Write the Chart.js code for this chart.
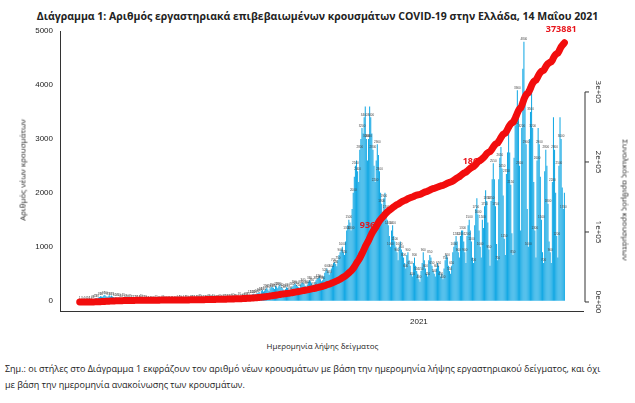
<!DOCTYPE html>
<html lang="el">
<head>
<meta charset="UTF-8">
<title>Διάγραμμα 1</title>
<script src="https://cdn.jsdelivr.net/npm/chart.js"></script>
<style>
    body { margin: 0; width: 635px; height: 403px; background: #fff; font-family: 'Open Sans', sans-serif; color: #222; position: relative; overflow: hidden; }
    #wrap { position: absolute; left: 0; top: 0; width: 635px; height: 340px; }
    .title { position: absolute; top: 9px; left: 0; width: 635px; text-align: center; font-size: 10.5px; font-weight: bold; }
    .ytitle { position: absolute; font-size: 8px; white-space: nowrap; }
    #yl { left: 22px; top: 170px; transform: translate(-50%, -50%) rotate(-90deg); }
    #yr { left: 626px; top: 200px; transform: translate(-50%, -50%) rotate(90deg); }
    .xtitle { position: absolute; top: 340px; left: 80px; width: 485px; text-align: center; font-size: 8px; }
    .note { position: absolute; left: 5px; top: 361px; font-size: 9px; line-height: 16px; width: 625px; }
</style>
</head>
<body>
<div class="title">Διάγραμμα 1: Αριθμός εργαστηριακά επιβεβαιωμένων κρουσμάτων COVID-19 στην Ελλάδα, 14 Μαΐου 2021</div>
<div id="wrap"><canvas id="chart" width="635" height="340"></canvas></div>
<div class="ytitle" id="yl">Αριθμός νέων κρουσμάτων</div>
<div class="ytitle" id="yr">Συνολικός αριθμός κρουσμάτων</div>
<div class="xtitle">Ημερομηνία λήψης δείγματος</div>
<div class="note">Σημ.: οι στήλες στο Διάγραμμα 1 εκφράζουν τον αριθμό νέων κρουσμάτων με βάση την ημερομηνία λήψης εργαστηριακού δείγματος, και όχι<br>με βάση την ημερομηνία ανακοίνωσης των κρουσμάτων.</div>
<script>
// daily new cases by sample date, 26 Feb 2020 - 14 May 2021
const feb20 = [1,2,3,1];
const mar20 = [4,2,6,3,10,14,12,18,24,30,45,52,38,60,70,85,80,75,95,110,90,70,85,100,80,95,78,70,60,65,55];
const apr20 = [50,60,45,40,38,55,62,48,30,25,40,35,20,25,30,22,15,20,28,18,20,40,30,15,12,18,20,10,15,12];
const may20 = [8,10,12,6,10,15,8,5,12,10,8,14,6,9,11,13,10,7,12,8,15,10,18,12,9,14,20,16,11,10,22];
const jun20 = [18,14,20,25,12,16,28,20,15,22,18,30,24,20,35,28,30,40,22,26,32,45,38,30,28,34,40,36,30,42];
const jul20 = [28,35,40,32,30,45,38,42,50,36,48,55,40,35,60,52,45,58,50,62,70,55,48,75,68,72,80,90,85,100,110];
const aug20 = [95,120,130,110,125,140,150,160,130,180,200,170,190,220,240,210,180,230,260,250,240,220,280,260,230,270,300,250,240,210,180];
const sep20 = [220,250,240,210,190,230,260,280,300,320,290,270,250,240,300,330,340,310,280,260,300,350,380,360,330,290,270,340,380,410];
const oct20 = [420,460,400,360,380,450,520,560,600,540,480,520,600,650,700,720,680,640,750,850,900,950,1000,900,850,1100,1300,1400,1500,1450,1300];
const nov20 = [1700,2000,2300,2500,2600,2400,2200,2800,3000,3200,3100,3400,3600,3000,2600,3000,3600,3400,3100,2800,2500,2200,2600,2900,2700,2400,2000,1800,1600,1900];
const dec20 = [2000,1700,1500,1400,1200,1000,1300,1400,1200,1100,1000,900,750,1000,1100,950,900,800,700,600,850,900,750,650,500,450,700,800,650,550,500];
const jan21 = [400,350,550,700,900,750,600,500,450,750,850,800,650,550,500,450,600,700,650,550,450,500,400,600,750,850,800,650,550,500,650];
const feb21 = [900,1000,1100,1200,1100,900,800,1200,1300,1300,1100,900,700,1200,1400,1500,1300,1100,800,700,1400,1700,1900,1600,1300,1000,800,1500];
const mar21 = [1350,1750,2050,1850,1450,950,650,1850,2250,2550,2250,1750,1050,750,2250,2650,2850,2450,1950,1150,850,2350,2750,3150,2750,2150,1250,850,2650,3250,3450];
const apr21 = [3900,3500,2500,1300,3200,4300,4800,3700,2900,1700,1000,3000,3500,4100,3200,2200,1300,800,2600,3200,2900,2300,1500,900,700,2400,2800,2500,1800,1100];
const may21 = [900,700,2200,3400,2800,2000,1200,800,2500,3400,3000,2100,1700,2000];

const daily = [].concat(feb20, mar20, apr20, may20, jun20, jul20, aug20, sep20, oct20,
                        nov20, dec20, jan21, feb21, mar21, apr21, may21);
const year2021Day = 310;   // index of 1 Jan 2021

// red labels on the cumulative curve
const labelDays = [256, 350, 426];
const labelValues = [106000, 197000, 385000];
const labelTexts = ['9367', '1869', '373881'];

const leftTicks = [0, 1000, 2000, 3000, 4000, 5000];
const rightTicks = [0, 100000, 200000, 300000];
const rightTickText = ['0e+00', '1e+05', '2e+05', '3e+05'];

let run = 0;
const cumulative = daily.map(v => (run += v));

const barPoints = daily.map((v, i) => ({ x: i, y: v }));
const linePoints = cumulative.map((v, i) => ({ x: i, y: v }));

const decorations = {
    id: 'decorations',
    afterDatasetDraw(chart, args) {
        if (args.index !== 0) return;
        const ctx = chart.ctx;
        const meta = chart.getDatasetMeta(0);
        ctx.save();
        ctx.fillStyle = '#444';
        ctx.font = '3px sans-serif';
        ctx.textAlign = 'center';
        meta.data.forEach((bar, i) => {
            if (i % 2) return;
            ctx.fillText(String(daily[i]), bar.x, bar.y - 1.5);
        });
        const xs = chart.scales.x, y2 = chart.scales.y2;
        ctx.fillStyle = '#e8141b';
        ctx.font = 'bold 9px "Open Sans", sans-serif';
        ctx.textAlign = 'left';
        labelTexts.forEach((t, i) => {
            ctx.fillText(t, xs.getPixelForValue(labelDays[i]), y2.getPixelForValue(labelValues[i]));
        });
        ctx.restore();
    },
    afterDraw(chart) {
        const ctx = chart.ctx;
        const y2 = chart.scales.y2;
        const x = chart.chartArea.right + 2;
        ctx.save();
        ctx.strokeStyle = '#333';
        ctx.lineWidth = 1;
        ctx.beginPath();
        ctx.moveTo(x, y2.getPixelForValue(0));
        ctx.lineTo(x, y2.getPixelForValue(300000));
        rightTicks.forEach(v => {
            const py = y2.getPixelForValue(v);
            ctx.moveTo(x, py);
            ctx.lineTo(x + 4, py);
        });
        ctx.stroke();
        ctx.fillStyle = '#222';
        ctx.font = '8px "Open Sans", sans-serif';
        ctx.textAlign = 'center';
        ctx.textBaseline = 'middle';
        rightTicks.forEach((v, i) => {
            ctx.save();
            ctx.translate(x + 13, y2.getPixelForValue(v));
            ctx.rotate(Math.PI / 2);
            ctx.fillText(rightTickText[i], 0, 0);
            ctx.restore();
        });
        ctx.restore();
    }
};

new Chart(document.getElementById('chart'), {
    data: {
        datasets: [
            {
                type: 'bar',
                data: barPoints,
                backgroundColor: '#16a9e4',
                borderWidth: 0,
                barPercentage: 1,
                categoryPercentage: 0.95,
                yAxisID: 'y',
                order: 2
            },
            {
                type: 'line',
                data: linePoints,
                borderColor: '#f20d0d',
                borderWidth: 7,
                pointRadius: 0,
                tension: 0,
                borderCapStyle: 'round',
                yAxisID: 'y2',
                order: 1
            }
        ]
    },
    options: {
        responsive: false,
        animation: false,
        layout: { padding: { top: 31, left: 0, right: 0, bottom: 0 } },
        plugins: { legend: { display: false }, tooltip: { enabled: false } },
        scales: {
            x: {
                type: 'linear',
                offset: false,
                min: -18,
                max: 460,
                afterBuildTicks: s => { s.ticks = [{ value: year2021Day }]; },
                ticks: { callback: () => '2021', color: '#222', font: { size: 8 }, maxRotation: 0, padding: 2 },
                grid: { display: false, offset: false, drawTicks: true, tickLength: 4, tickColor: '#333' },
                border: { color: '#333', width: 1 },
                afterFit: s => { s.height = 29; }
            },
            y: {
                position: 'left',
                min: -190,
                max: 5000,
                afterBuildTicks: s => { s.ticks = leftTicks.map(v => ({ value: v })); },
                ticks: { callback: v => String(v), color: '#222', font: { size: 8 }, padding: 3 },
                grid: { display: false, drawTicks: true, tickLength: 4, tickColor: '#333' },
                border: { color: '#333', width: 1 },
                afterFit: s => { s.width = 60; }
            },
            y2: {
                position: 'right',
                min: -12860,
                max: 387100,
                ticks: { display: false },
                grid: { display: false },
                border: { display: false },
                afterFit: s => { s.width = 52; }
            }
        }
    },
    plugins: [decorations]
});
</script>
</body>
</html>
